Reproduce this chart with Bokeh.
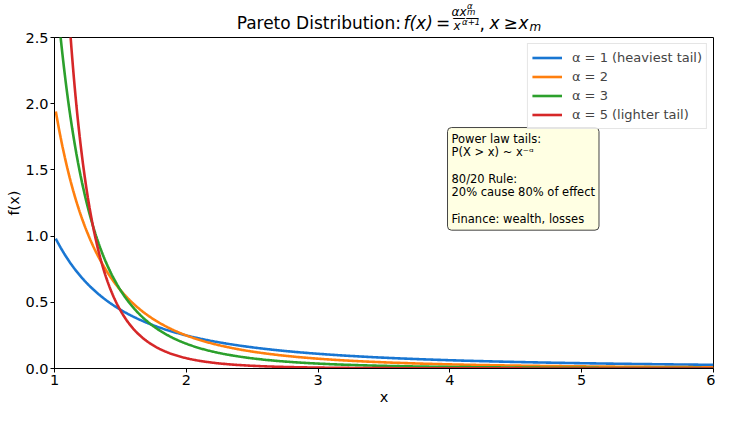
import numpy as np
from bokeh.plotting import figure
from bokeh.layouts import column
from bokeh.models import Label, Legend, LegendItem, Range1d, FixedTicker, NumeralTickFormatter
from bokeh.embed import file_html
from bokeh.resources import INLINE

# ---- data ----
alphas = [1, 2, 3, 5]
x_m = 1.0
series_labels = ["α = 1 (heaviest tail)", "α = 2", "α = 3", "α = 5 (lighter tail)"]
colors = ["#1976D2", "#FF7F0E", "#2CA02C", "#D62728"]
x_start, x_end = 1.01, 6.0
x_ticks = [1, 2, 3, 4, 5, 6]
y_ticks = [0.0, 0.5, 1.0, 1.5, 2.0, 2.5]
x_label = "x"
y_label = "f(x)"
info_text = ("Power law tails:\nP(X > x) ~ x\u207b\u1d45\n\n80/20 Rule:\n"
             "20% cause 80% of effect\n\nFinance: wealth, losses")

# ---- layout ----
W = 715
TH = 32            # title strip height
H = 407 - TH       # main figure height
MB_L, MB_R, MB_T, MB_B = 54, 2, 5, 38
FW = W - MB_L - MB_R
FONT = "DejaVu Sans"

# ---- title strip: frame aligned with the main frame, pixel coordinates ----
tp = figure(width=W, height=TH, x_range=Range1d(0, FW), y_range=Range1d(TH, 0),
            output_backend="svg", toolbar_location=None,
            min_border_left=MB_L, min_border_right=MB_R,
            min_border_top=0, min_border_bottom=0,
            x_axis_type=None, y_axis_type=None)
tp.title.visible = False
tp.outline_line_color = None
tp.xgrid.visible = False
tp.ygrid.visible = False
tp.background_fill_color = "white"
tp.border_fill_color = "white"

S, s1, s2 = 17.0, 12.0, 8.6
# reference title pieces: (text, x, baseline y, size, style, align) in reference
# pixels; reference frame spans x 57..726, main baseline at y 25
ref_left, ref_right, ref_base = 57.0, 726.0, 25.0
ref_center = (ref_left + ref_right) / 2.0
base = 27.5
title_parts = [
    ("Pareto Distribution:", 400.5, 25.0, S, "normal", "right"),
    ("f(x)", 403, 25.0, S, "italic", "left"),
    ("=", 435.5, 25.0, S, "normal", "left"),
    ("\u03b1x", 451, 12.7, s1, "italic", "left"),
    ("\u03b1", 466.5, 5.5, s2, "italic", "left"),
    ("m", 466.5, 11.3, s2, "italic", "left"),
    ("\u2014\u2014", 452, 18.6, 13.0, "normal", "left"),
    ("x", 453, 26.0, s1, "italic", "left"),
    ("\u03b1+1", 461.5, 21.5, s2, "italic", "left"),
    (",", 479, 25.0, S, "normal", "left"),
    ("x", 489, 25.0, S, "italic", "left"),
    ("\u2265", 503, 25.0, S, "normal", "left"),
    ("x", 518, 25.0, S, "italic", "left"),
    ("m", 529, 27.0, s1, "italic", "left"),
]
BASELINE_SHIFT = 0.28   # observed renderer offset of the alphabetic baseline, in em
for txt, rx, ry, size, style, align in title_parts:
    px = FW / 2.0 + (rx - ref_center) + 8.0
    py = base + (ry - ref_base) - BASELINE_SHIFT * size
    tp.add_layout(Label(x=px, y=py, text=txt, text_align=align,
                        text_baseline="alphabetic", text_font=FONT,
                        text_font_size=f"{size}px", text_font_style=style,
                        text_color="black"))

# ---- main plot ----
p = figure(width=W, height=H, x_range=Range1d(1.0, 6.0), y_range=Range1d(0.0, 2.5),
           output_backend="svg", toolbar_location=None,
           min_border_left=MB_L, min_border_right=MB_R,
           min_border_top=MB_T, min_border_bottom=MB_B)
p.title.visible = False
p.xgrid.visible = False
p.ygrid.visible = False
p.outline_line_color = "black"
p.outline_line_width = 1
p.outline_line_alpha = 1.0
p.background_fill_color = "white"
p.border_fill_color = "white"

xs = np.linspace(x_start, x_end, 800)
items = []
for a, lab, c in zip(alphas, series_labels, colors):
    ys = a * x_m ** a / xs ** (a + 1)
    r = p.line(xs, ys, line_color=c, line_width=2.6)
    items.append(LegendItem(label=lab, renderers=[r]))

legend = Legend(items=items, location="top_right", margin=6, padding=4, spacing=0,
                label_text_font=FONT, label_text_font_size="13px",
                label_height=19, glyph_height=19, glyph_width=30, label_standoff=10,
                border_line_color="#cccccc", border_line_width=1,
                background_fill_color="white", background_fill_alpha=0.85)
p.add_layout(legend)

for ax in (p.xaxis, p.yaxis):
    ax.axis_line_color = "black"
    ax.major_tick_line_color = "black"
    ax.major_tick_out = 4
    ax.major_tick_in = 0
    ax.minor_tick_line_color = None
    ax.major_label_text_font = FONT
    ax.major_label_text_font_size = "14.5px"
    ax.major_label_text_color = "black"
    ax.major_label_standoff = 2
    ax.axis_label_text_font = FONT
    ax.axis_label_text_font_size = "14.5px"
    ax.axis_label_text_font_style = "normal"
    ax.axis_label_text_color = "black"
p.xaxis.ticker = FixedTicker(ticks=x_ticks)
p.yaxis.ticker = FixedTicker(ticks=y_ticks)
p.yaxis.formatter = NumeralTickFormatter(format="0.0")
p.xaxis.axis_label = x_label
p.yaxis.axis_label = y_label
p.xaxis.axis_label_standoff = 1
p.yaxis.axis_label_standoff = 0

# ---- info box (position as fraction of the axes) ----
p.add_layout(Label(x=1.0 + 5.0 * 0.5964, y=2.5 * (1 - 0.272),
                   text=info_text, anchor="top_left", text_align="left",
                   text_font=FONT, text_font_size="11.5px", text_line_height=0.96,
                   text_color="black", padding=4, border_radius=4,
                   background_fill_color="#ffffe0", background_fill_alpha=0.9,
                   border_line_color="#444444", border_line_width=1))

layout = column(tp, p, spacing=0)
open("out.html", "w").write(file_html(layout, INLINE))
